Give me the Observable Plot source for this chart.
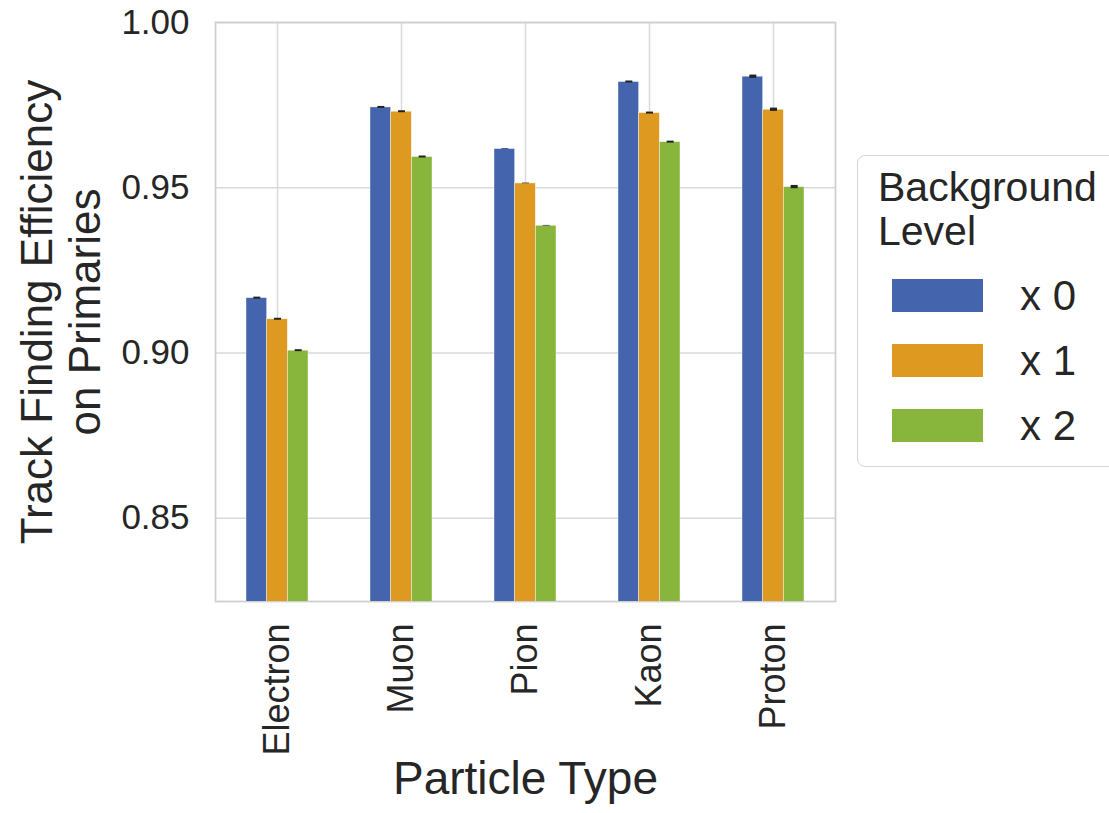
<!DOCTYPE html>
<html>
<head>
<meta charset="utf-8">
<script src="https://cdn.jsdelivr.net/npm/d3@7"></script>
<script src="https://cdn.jsdelivr.net/npm/@observablehq/plot@0.6"></script>
<style>
  html, body { margin: 0; padding: 0; background: #fff; }
  #wrap { position: relative; width: 1109px; height: 813px; overflow: hidden; font-family: "Liberation Sans", Arial, sans-serif; color: #262626; }
  #legend { position: absolute; left: 857px; top: 155px; width: 280px; height: 312px; border: 1.5px solid #d6d6d6; border-radius: 8px; box-sizing: border-box; background: #fff; }
  #legend .title { position: absolute; left: 20px; top: 9px; font-size: 41px; line-height: 44px; }
  #legend .sw { position: absolute; left: 34px; width: 91px; height: 33px; }
  #legend .lab { position: absolute; left: 162px; font-size: 42px; line-height: 42px; }
</style>
</head>
<body>
<div id="wrap"><div id="chart"></div><div id="legend"></div></div>
<script>
const categories = ["Electron", "Muon", "Pion", "Kaon", "Proton"];
const levels = ["x 0", "x 1", "x 2"];
const colors = ["#4464ad", "#dd9920", "#88b63c"];
const eff0 = [0.9166, 0.9743, 0.9617, 0.9820, 0.9836];
const eff1 = [0.9102, 0.9730, 0.9513, 0.9726, 0.9736];
const eff2 = [0.9007, 0.9593, 0.9385, 0.9638, 0.9502];
const err0 = [0.0003, 0.0003, 0.0001, 0.0003, 0.0005];
const err1 = [0.0003, 0.0003, 0.0001, 0.0003, 0.0005];
const err2 = [0.0003, 0.0003, 0.0001, 0.0003, 0.0005];
const yTicks = [0.85, 0.90, 0.95, 1.00];
const yTitle = "Track Finding Efficiency\non Primaries";
const xTitle = "Particle Type";
const legendTitle = "Background\nLevel";

const series = [eff0, eff1, eff2];
const errs = [err0, err1, err2];
const data = [];
series.forEach((vals, li) => vals.forEach((v, ci) => data.push({
  type: categories[ci], level: levels[li], li, v, lo: v - errs[li][ci], hi: v + errs[li][ci]
})));

const step = (835 - 215) / categories.length;
const barW = step / 6;
const inset = (step - barW) / 2;
const offsets = [-barW, 0, barW];

const marks = [
  Plot.gridY(yTicks, {stroke: "#d9d9d9", strokeOpacity: 1, strokeWidth: 1.5}),
  Plot.gridX({stroke: "#d9d9d9", strokeOpacity: 1, strokeWidth: 1.5}),
  Plot.frame({stroke: "#cfcfcf", strokeWidth: 1.8})
];
levels.forEach((lev, li) => {
  const d = data.filter(r => r.li === li);
  marks.push(Plot.barY(d, {
    x: "type", y: "v", fill: colors[li], dx: offsets[li],
    insetLeft: inset, insetRight: inset, clip: true,
    stroke: "#ffffff", strokeWidth: 0.6, strokeOpacity: 0.7
  }));
  marks.push(Plot.ruleX(d, {
    x: "type", y1: "lo", y2: "hi", dx: offsets[li], stroke: "#222", strokeWidth: 7
  }));
});
marks.push(
  Plot.axisY(yTicks, {tickSize: 0, tickPadding: 26, tickFormat: d3.format(".2f"), label: null, fontSize: 35}),
  Plot.axisX({tickSize: 0, tickPadding: 22, tickRotate: -90, label: null, fontSize: 36}),
  Plot.text([yTitle], {frameAnchor: "left", textAnchor: "middle", rotate: -90, dx: -155, fontSize: 44, lineHeight: 1.1}),
  Plot.text([xTitle], {frameAnchor: "bottom", dy: 192, fontSize: 46})
);

const chart = Plot.plot({
  width: 1109,
  height: 813,
  marginLeft: 215,
  marginRight: 274,
  marginTop: 22,
  marginBottom: 212,
  style: {fontFamily: "\"Liberation Sans\", Arial, sans-serif", color: "#262626", background: "#fff", overflow: "visible"},
  x: {type: "band", domain: categories, padding: 0, label: null},
  y: {domain: [0.8248, 1.0], label: null},
  marks
});
document.getElementById("chart").appendChild(chart);

const lg = document.getElementById("legend");
const t = document.createElement("div");
t.className = "title";
t.innerHTML = legendTitle.split("\n").join("<br>");
lg.appendChild(t);
levels.forEach((lev, i) => {
  const sw = document.createElement("div");
  sw.className = "sw";
  sw.style.top = (123 + 65 * i) + "px";
  sw.style.background = colors[i];
  lg.appendChild(sw);
  const lb = document.createElement("div");
  lb.className = "lab";
  lb.style.top = (119 + 65 * i) + "px";
  lb.textContent = lev;
  lg.appendChild(lb);
});
</script>
</body>
</html>
